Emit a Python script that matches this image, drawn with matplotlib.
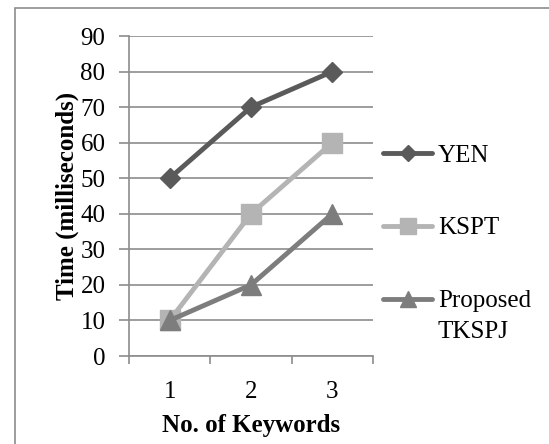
import matplotlib.pyplot as plt
from matplotlib.patches import Rectangle
from matplotlib.text import Annotation

# --- dados ---
keywords = [1, 2, 3]
yen = [50, 70, 80]
kspt = [10, 40, 60]
tkspj = [10, 20, 40]
series_labels = ['YEN', 'KSPT', 'Proposed']
y_ticks = [0, 10, 20, 30, 40, 50, 60, 70, 80, 90]

plt.rcParams['font.family'] = ['Liberation Serif', 'DejaVu Serif']
fs = 18

fig = plt.figure(figsize=(5.49, 4.44), dpi=100)
ax = fig.add_axes([129 / 549, 1 - 356 / 444, 244 / 549, 320 / 444])

# moldura externa
fig.patches.append(Rectangle((15 / 549, -0.1), 1.2, 1 - 8 / 444 + 0.1,
                             transform=fig.transFigure, fill=False,
                             edgecolor='#8c8c8c', linewidth=1.2))

cores = ['#5a5a5a', '#b4b4b4', '#7d7d7d']
marcadores = ['D', 's', '^']
tamanhos = [10, 14, 14]
linhas = []
for vals, cor, m, ms, lab in zip([yen, kspt, tkspj], cores, marcadores, tamanhos, series_labels):
    l, = ax.plot(keywords, vals, color=cor, linewidth=3.5, marker=m, markersize=ms,
                 label=lab, zorder=3, solid_capstyle='round')
    linhas.append(l)

ax.set_xlim(0.5, 3.5)
ax.set_ylim(0, 90)
ax.set_yticks(y_ticks)
ax.set_xticks(keywords)
ax.set_xticks([0.5, 1.5, 2.5, 3.5], minor=True)
ax.grid(axis='y', color='#8c8c8c', linewidth=1.2)
ax.set_axisbelow(True)
for s in ['top', 'right']:
    ax.spines[s].set_visible(False)
for s in ['left', 'bottom']:
    ax.spines[s].set_color('#8c8c8c')
    ax.spines[s].set_linewidth(1.2)
ax.tick_params(axis='y', length=7, width=1.2, color='#8c8c8c', labelsize=fs, pad=10)
ax.tick_params(axis='x', which='major', length=0, labelsize=fs, pad=18)
ax.tick_params(axis='x', which='minor', length=6, width=1.2, color='#8c8c8c')

ax.set_xlabel('No. of Keywords', fontsize=fs, fontweight='bold', labelpad=8)
ax.set_ylabel('Time (milliseconds)', fontsize=fs, fontweight='bold', labelpad=1)

leg = fig.legend(handles=linhas, loc='upper left', bbox_to_anchor=(383 / 549, 1 - 144 / 444),
                 frameon=False, fontsize=fs, labelspacing=2.02, handlelength=1.96,
                 handletextpad=0.24, borderpad=0, borderaxespad=0, markerscale=0.85)
seg = Annotation('TKSPJ', xy=(0, 0), xycoords=leg.get_texts()[2], xytext=(0, -6),
                 textcoords='offset points', ha='left', va='top', fontsize=fs)
seg.set_zorder(10)
fig.add_artist(seg)

fig.savefig('out.png', dpi=100)
